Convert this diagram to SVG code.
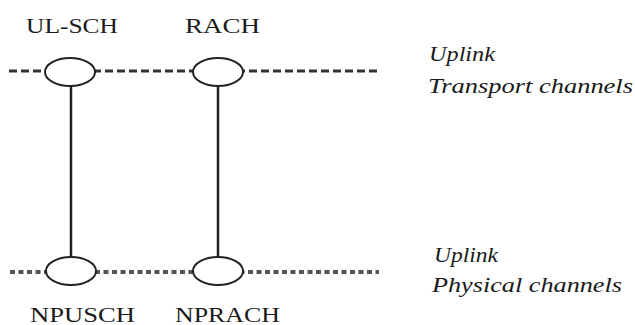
<svg xmlns="http://www.w3.org/2000/svg" width="635" height="325" viewBox="0 0 635 325">
<style>
.lbl{font-family:'Times New Roman','Liberation Serif',Times,'DejaVu Serif',serif;font-size:20px;fill:#1a1a1a}
.it{font-family:'Times New Roman','Liberation Serif',Times,'DejaVu Serif',serif;font-size:21px;font-style:italic;fill:#1a1a1a}
.dash{stroke:#333;stroke-width:3;stroke-dasharray:8 4;fill:none}
.dot{stroke:#555;stroke-width:4;stroke-dasharray:5 3.5;fill:none}
.ell{fill:#fff;stroke:#222;stroke-width:2}
.vl{stroke:#222;stroke-width:2.5}
</style>
<rect width="635" height="325" fill="#fff"/>
<g id="connectors">
<line class="dash" x1="9" y1="71" x2="379" y2="71"/>
<line class="dot" x1="10" y1="272" x2="379" y2="272"/>
<line class="vl" x1="71" y1="85" x2="71" y2="258"/>
<line class="vl" x1="218" y1="85" x2="218" y2="258"/>
</g>
<g id="ulsch"><ellipse class="ell" cx="70" cy="72" rx="25" ry="14"/><text class="lbl" x="26" y="33" textLength="92" lengthAdjust="spacingAndGlyphs">UL-SCH</text></g>
<g id="rach"><ellipse class="ell" cx="218" cy="72" rx="25" ry="14"/><text class="lbl" x="185" y="33" textLength="75" lengthAdjust="spacingAndGlyphs">RACH</text></g>
<g id="npusch"><ellipse class="ell" cx="71" cy="271" rx="25" ry="14"/><text class="lbl" x="30" y="322" textLength="105" lengthAdjust="spacingAndGlyphs">NPUSCH</text></g>
<g id="nprach"><ellipse class="ell" cx="218" cy="271" rx="25" ry="14"/><text class="lbl" x="175" y="322" textLength="105" lengthAdjust="spacingAndGlyphs">NPRACH</text></g>
<g id="transport"><text class="it" x="429" y="61" textLength="66" lengthAdjust="spacingAndGlyphs">Uplink</text><text class="it" x="428" y="93" textLength="205" lengthAdjust="spacingAndGlyphs">Transport channels</text></g>
<g id="physical"><text class="it" x="434" y="262" textLength="64" lengthAdjust="spacingAndGlyphs">Uplink</text><text class="it" x="432" y="292" textLength="190" lengthAdjust="spacingAndGlyphs">Physical channels</text></g>
</svg>
